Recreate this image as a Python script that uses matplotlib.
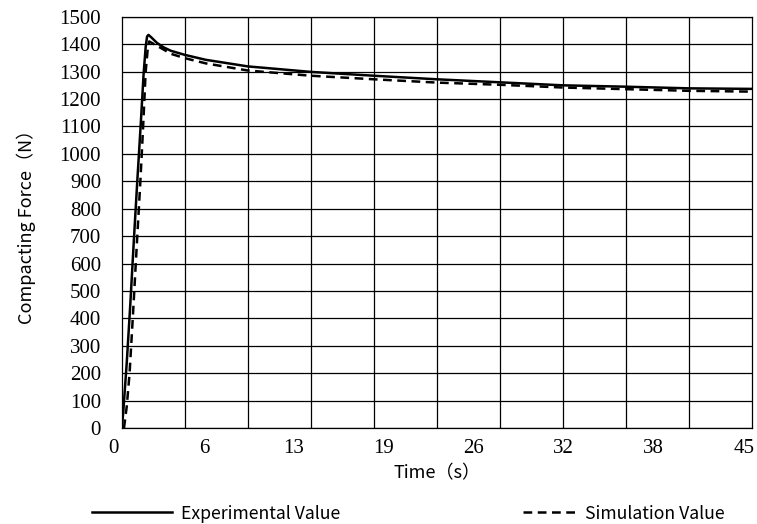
import matplotlib
matplotlib.use('Agg')
import matplotlib.pyplot as plt
import matplotlib.transforms as mtransforms
from matplotlib.ticker import MultipleLocator
import numpy as np

# experimental curve (time in s, force in N)
t_exp = [0, 0.1, 0.35, 0.6, 0.85, 1.1, 1.35, 1.55, 1.7, 1.8, 1.9, 2.1, 2.5, 3.0,
         3.5, 4.5, 6.0, 9.0, 13.5, 18.0, 22.5, 27.0, 31.5, 36.0, 40.5, 45.0]
f_exp = [0, 60, 240, 450, 680, 900, 1110, 1290, 1390, 1428, 1434, 1425, 1405, 1388,
         1376, 1361, 1343, 1319, 1299, 1285, 1272, 1261, 1250, 1245, 1239, 1237]

# simulation curve
t_sim = [0.15, 0.35, 0.55, 0.8, 1.1, 1.3, 1.5, 1.7, 1.85, 1.95, 2.3, 3.0,
         3.5, 4.5, 6.0, 9.0, 13.5, 18.0, 22.5, 27.0, 31.5, 36.0, 40.5, 45.0]
f_sim = [0, 80, 200, 420, 700, 880, 1080, 1300, 1385, 1410, 1400, 1380,
         1365, 1349, 1330, 1304, 1285, 1272, 1260, 1252, 1242, 1236, 1230, 1227]

x_labels = ['0', '6', '13', '19', '26', '32', '38', '45']

sans = ['Noto Sans CJK SC', 'DejaVu Sans']
serif = 'Liberation Serif'

fig = plt.figure(figsize=(7.57, 5.24), dpi=100)
ax = fig.add_axes([0.161, 0.183, 0.832, 0.785])

l1, = ax.plot(t_exp, f_exp, color='black', lw=1.8, label='Experimental Value')
l2, = ax.plot(t_sim, f_sim, color='black', lw=1.8, dashes=(3.5, 2.2),
              label='Simulation Value')

ax.set_xlim(0, 45)
ax.set_ylim(0, 1500)

# grid: 10 vertical divisions, horizontal every 100
ax.xaxis.set_minor_locator(MultipleLocator(4.5))
ax.yaxis.set_major_locator(MultipleLocator(100))
ax.grid(which='minor', axis='x', color='black', lw=0.9)
ax.grid(which='major', axis='y', color='black', lw=0.9)
ax.set_axisbelow(True)

ax.set_xticks(np.linspace(0, 45, len(x_labels)))
ax.set_xticklabels(x_labels)
ax.tick_params(axis='both', which='both', length=0)
ax.tick_params(axis='x', pad=8, labelsize=15)
ax.tick_params(axis='y', pad=15, labelsize=15)
for lab in ax.get_xticklabels() + ax.get_yticklabels():
    lab.set_fontfamily(serif)
shift = mtransforms.ScaledTranslation(-8 / 100, 0, fig.dpi_scale_trans)
for lab in ax.get_xticklabels():
    lab.set_transform(lab.get_transform() + shift)

for sp in ax.spines.values():
    sp.set_color('black')
    sp.set_linewidth(0.9)

ax.set_xlabel('Time（s）', family=sans, fontsize=13, labelpad=4)
ax.set_ylabel('Compacting Force（N）', family=sans, fontsize=13, labelpad=17)

# two legend entries placed separately, as in the source chart
prop = {'family': sans, 'size': 12.7}
leg1 = fig.legend(handles=[l1], loc='center left', bbox_to_anchor=(0.122, 0.02),
                  frameon=False, handlelength=4.5, handletextpad=0.5,
                  borderpad=0, borderaxespad=0, prop=prop)
leg2 = fig.legend(handles=[l2], loc='center left', bbox_to_anchor=(0.691, 0.02),
                  frameon=False, handlelength=3.0, handletextpad=0.5,
                  borderpad=0, borderaxespad=0, prop=prop)

fig.savefig('out.png', dpi=100)
